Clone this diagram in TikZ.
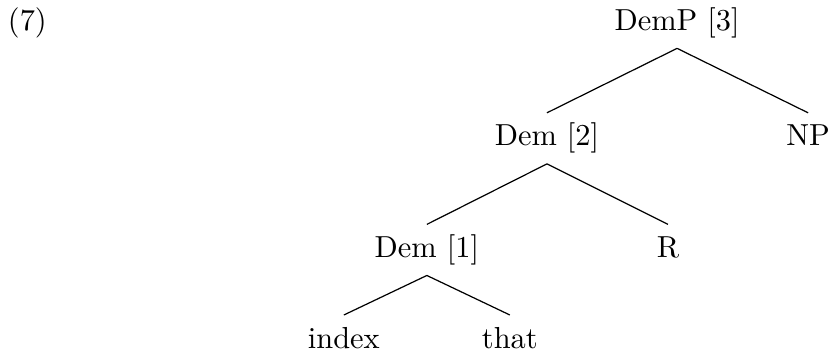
\documentclass[tikz,border=0pt]{standalone}
\usepackage{tikz}
\usetikzlibrary{positioning}

\begin{document}
\begin{tikzpicture}[on grid, auto]
  \tikzstyle{cat} = [inner sep=3.2pt, text height=7.5pt, text depth=2.5pt];
  \tikzstyle{branch} = [black, line width=0.4pt];

  \useasboundingbox (0,0) rectangle (273pt,-116.4pt);

  \node[anchor=base](ex) at (9pt,-10pt) {(7)};
  \node[cat,anchor=base](demP) at (222.7pt,-10pt) {DemP [3]};
  \node[cat](dem2) [below left=38pt and 42.8pt of demP] {Dem [2]};
  \node[cat](np) [below right=38pt and 43.1pt of demP] {NP};
  \node[cat](dem1) [below left=36.7pt and 39.5pt of dem2] {Dem [1]};
  \node[cat](r) [below right=36.7pt and 39.8pt of dem2] {R};
  \node[cat](idx) [below left=29.8pt and 27.3pt of dem1] {index};
  \node[cat](that) [below right=29.8pt and 27.3pt of dem1] {that};

  \path[branch]
  (demP.south) edge (dem2.north)
    edge (np.north)
  (dem2.south) edge (dem1.north)
    edge (r.north)
  (dem1.south) edge (idx.north)
    edge (that.north);
\end{tikzpicture}
\end{document}
